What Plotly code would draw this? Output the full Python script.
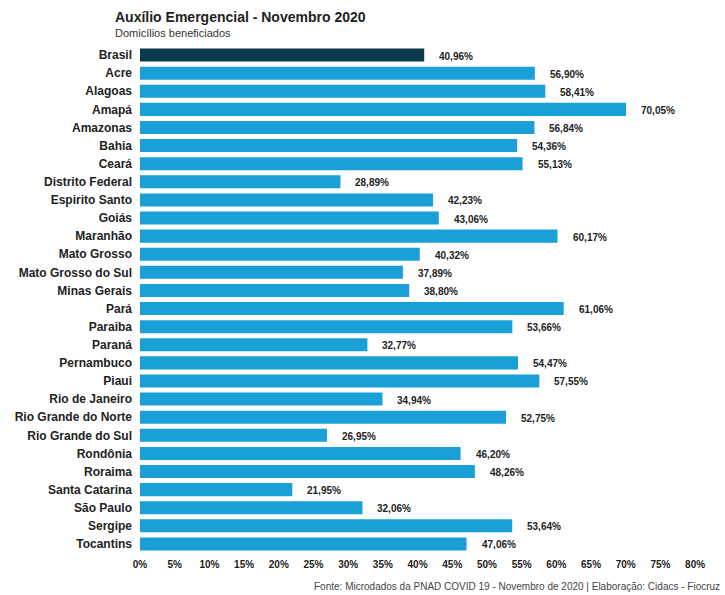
import plotly.graph_objects as go

# Share of households receiving Auxílio Emergencial, November 2020
regioes = [
    "Brasil", "Acre", "Alagoas", "Amapá", "Amazonas", "Bahia", "Ceará",
    "Distrito Federal", "Espirito Santo", "Goiás", "Maranhão", "Mato Grosso",
    "Mato Grosso do Sul", "Minas Gerais", "Pará", "Paraiba", "Paraná",
    "Pernambuco", "Piaui", "Rio de Janeiro", "Rio Grande do Norte",
    "Rio Grande do Sul", "Rondônia", "Roraima", "Santa Catarina",
    "São Paulo", "Sergipe", "Tocantins",
]
percentuais = [
    40.96, 56.90, 58.41, 70.05, 56.84, 54.36, 55.13,
    28.89, 42.23, 43.06, 60.17, 40.32,
    37.89, 38.80, 61.06, 53.66, 32.77,
    54.47, 57.55, 34.94, 52.75,
    26.95, 46.20, 48.26, 21.95,
    32.06, 53.64, 47.06,
]
ticks_x = list(range(0, 85, 5))
tick_labels = [f"{t}%" for t in ticks_x]

COR_BRASIL = "#0b3a4a"
COR_UF = "#1a9fd6"
FONTE = "Liberation Sans, Arial, sans-serif"

cores = [COR_BRASIL if r == "Brasil" else COR_UF for r in regioes]

def fmt(v):
    return f"{v:.2f}".replace(".", ",") + "%"

fig = go.Figure(
    go.Bar(
        x=percentuais,
        y=regioes,
        orientation="h",
        marker=dict(color=cores, line=dict(width=0)),
        hoverinfo="skip",
    )
)

# value labels placed just beyond each bar end
for r, v in zip(regioes, percentuais):
    fig.add_annotation(
        x=v, y=r, text=f"<b>{fmt(v)}</b>", showarrow=False,
        xanchor="left", xshift=13, yshift=-1,
        font=dict(family=FONTE, size=10, color="#222"),
    )

fig.add_annotation(
    xref="paper", yref="paper", x=-0.0475, y=1.0572,
    text="<b>Auxílio Emergencial - Novembro 2020</b>", showarrow=False,
    xanchor="left", yanchor="middle",
    font=dict(family=FONTE, size=14, color="#222"),
)
fig.add_annotation(
    xref="paper", yref="paper", x=-0.0475, y=1.0256,
    text="Domicílios beneficiados", showarrow=False,
    xanchor="left", yanchor="middle",
    font=dict(family=FONTE, size=11, color="#333"),
)
fig.add_annotation(
    xref="paper", yref="paper", x=1.023, y=-0.0651,
    text="Fonte: Microdados da PNAD COVID 19 - Novembro de 2020 | Elaboração: Cidacs - Fiocruz",
    showarrow=False, xanchor="right", yanchor="middle",
    font=dict(family=FONTE, size=10, color="#444"),
)

fig.update_layout(
    width=725, height=595,
    margin=dict(l=140, r=16, t=46, b=42, autoexpand=False),
    paper_bgcolor="white", plot_bgcolor="white",
    bargap=0.28,
    showlegend=False,
    xaxis=dict(
        range=[0, 82], tickvals=ticks_x, ticktext=[f"<b>{t}</b>" for t in tick_labels],
        showgrid=False, zeroline=False, showline=False,
        tickfont=dict(family=FONTE, size=10, color="#222"),
        ticklabelstandoff=4, fixedrange=True, automargin=False,
    ),
    yaxis=dict(
        autorange="reversed", showgrid=False, showline=False,
        ticktext=[f"<b>{r}</b>" for r in regioes], tickvals=regioes,
        tickfont=dict(family=FONTE, size=12, color="#222"),
        ticklabelstandoff=7, fixedrange=True, automargin=False,
    ),
)

fig.write_html("out.html")
